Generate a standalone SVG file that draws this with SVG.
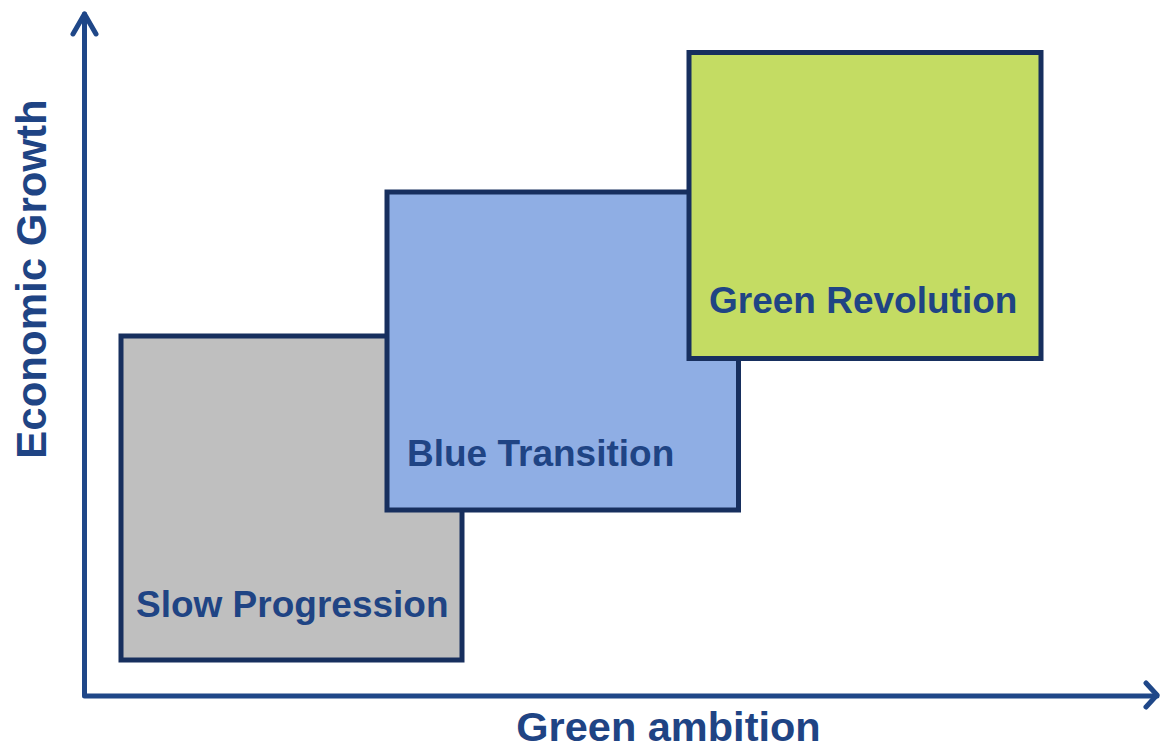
<svg xmlns="http://www.w3.org/2000/svg" width="1160" height="751" viewBox="0 0 1160 751">
<style>
.box{stroke:#172F5E;stroke-width:5}
.lbl{font-family:"Liberation Sans",Arial,sans-serif;font-weight:bold;fill:#1F4484}
.axis{stroke:#1F4788;stroke-width:5;fill:none;stroke-linecap:round;stroke-linejoin:round}
</style>
<rect width="1160" height="751" fill="#FFFFFF"/>
<g id="connectors">
<path class="axis" d="M84.5 14 V696 H1157"/>
<path class="axis" d="M73 34 L84.5 14 L96 34"/>
<path class="axis" d="M1146 683 L1157 695 L1146 707"/>
</g>
<g id="slow-progression">
<rect class="box" x="121" y="336" width="341" height="324" fill="#BFBFBF"/>
<text class="lbl" x="136" y="617" font-size="37">Slow Progression</text>
</g>
<g id="blue-transition">
<rect class="box" x="387" y="192" width="351.5" height="318" fill="#8FAEE4"/>
<text class="lbl" x="407" y="466" font-size="37">Blue Transition</text>
</g>
<g id="green-revolution">
<rect class="box" x="689" y="52.5" width="352" height="306" fill="#C4DC63"/>
<text class="lbl" x="709" y="313" font-size="37">Green Revolution</text>
</g>
<g id="x-axis-label">
<text class="lbl" x="668.5" y="741" font-size="41.5" text-anchor="middle">Green ambition</text>
</g>
<g id="y-axis-label">
<text class="lbl" x="0" y="0" font-size="42" text-anchor="middle" transform="translate(46 279) rotate(-90)">Economic Growth</text>
</g>
</svg>
